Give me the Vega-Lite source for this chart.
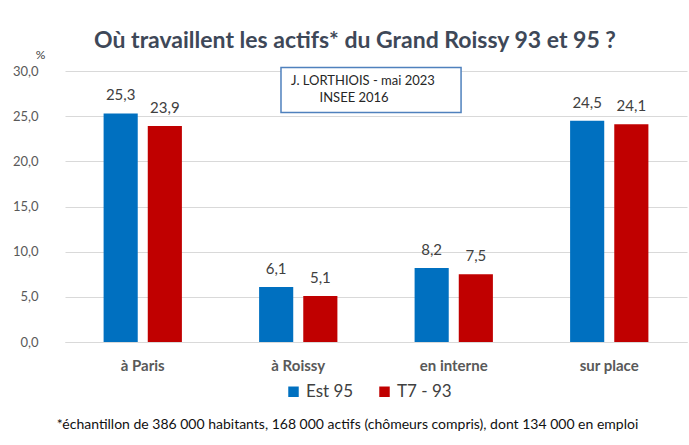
{
  "$schema": "https://vega.github.io/schema/vega-lite/v6.json",
  "width": 622,
  "height": 271,
  "autosize": {"type": "none"},
  "padding": {"left": 65, "top": 71, "right": 2, "bottom": 103},
  "background": "white",
  "title": {
    "text": "Où travaillent les actifs* du Grand Roissy 93 et 95 ?",
    "anchor": "middle",
    "dx": -21,
    "dy": 22,
    "offset": 17,
    "font": "Lato",
    "fontSize": 23,
    "fontWeight": "bold",
    "color": "#3E4858"
  },
  "config": {
    "locale": {"number": {"decimal": ",", "thousands": " ", "grouping": [3], "currency": ["", " €"]}},
    "view": {"stroke": null},
    "font": "Lato",
    "axisY": {
      "grid": true,
      "gridColor": "#D9D9D9",
      "domain": false,
      "ticks": false,
      "labelPadding": 27,
      "labelFontSize": 13,
      "labelColor": "#595959",
      "format": ".1f"
    }
  },
  "resolve": {"scale": {"x": "independent"}},
  "layer": [
    {
      "data": {
        "values": [
          {"lieu": "à Paris", "serie": "Est 95", "v": 25.3},
          {"lieu": "à Paris", "serie": "T7 - 93", "v": 23.9},
          {"lieu": "à Roissy", "serie": "Est 95", "v": 6.1},
          {"lieu": "à Roissy", "serie": "T7 - 93", "v": 5.1},
          {"lieu": "en interne", "serie": "Est 95", "v": 8.2},
          {"lieu": "en interne", "serie": "T7 - 93", "v": 7.5},
          {"lieu": "sur place", "serie": "Est 95", "v": 24.5},
          {"lieu": "sur place", "serie": "T7 - 93", "v": 24.1}
        ]
      },
      "encoding": {
        "x": {
          "field": "lieu",
          "type": "nominal",
          "sort": ["à Paris", "à Roissy", "en interne", "sur place"],
          "scale": {"paddingInner": 0, "paddingOuter": 0},
          "axis": {
            "title": "*échantillon de 386 000 habitants,  168 000 actifs (chômeurs compris), dont 134 000 en emploi",
            "titleFontSize": 14,
            "titleFontWeight": "normal",
            "titleColor": "#111111",
            "titleX": 282,
            "titleY": 82,
            "titleAlign": "center",
            "titleBaseline": "middle",
            "labelAngle": 0,
            "labelFontSize": 15,
            "labelFontWeight": "bold",
            "labelColor": "#595959",
            "labelPadding": 16,
            "ticks": false,
            "domain": true,
            "domainColor": "#D9D9D9"
          }
        },
        "xOffset": {
          "field": "serie",
          "type": "nominal",
          "scale": {"paddingInner": 0.227, "paddingOuter": 0.874}
        },
        "y": {
          "field": "v",
          "type": "quantitative",
          "scale": {"domain": [0, 30]},
          "axis": {
            "title": "%",
            "titleAngle": 0,
            "titleX": -25,
            "titleY": -17,
            "titleAlign": "center",
            "titleBaseline": "middle",
            "titleFontSize": 12,
            "titleFontWeight": "normal",
            "titleColor": "#404040",
            "values": [0, 5, 10, 15, 20, 25, 30]
          }
        }
      },
      "layer": [
        {
          "mark": {"type": "bar"},
          "encoding": {
            "color": {
              "field": "serie",
              "type": "nominal",
              "scale": {"domain": ["Est 95", "T7 - 93"], "range": ["#0070C0", "#C00000"]},
              "legend": {
                "title": null,
                "orient": "none",
                "direction": "horizontal",
                "legendX": 220,
                "legendY": 312,
                "symbolType": "square",
                "symbolSize": 110,
                "symbolStrokeWidth": 0,
                "labelFontSize": 17,
                "labelColor": "#404040",
                "columnPadding": 22,
                "labelOffset": 4
              }
            }
          }
        },
        {
          "mark": {"type": "text", "baseline": "bottom", "dy": -10, "fontSize": 15, "color": "#404040"},
          "encoding": {
            "text": {"field": "v", "type": "quantitative", "format": ".1f"}
          }
        }
      ]
    },
    {
      "data": {"values": [{"bx1": 1.389, "bx2": 2.547, "v": 30.4, "v2": 25.4}]},
      "mark": {"type": "rect", "fill": "white", "stroke": "#4F81BD", "strokeWidth": 1.5},
      "encoding": {
        "x": {"field": "bx1", "type": "quantitative", "scale": {"domain": [0, 4]}, "axis": null},
        "x2": {"field": "bx2"},
        "y": {
          "field": "v",
          "type": "quantitative",
          "axis": {
            "title": "%",
            "titleAngle": 0,
            "titleX": -25,
            "titleY": -17,
            "titleAlign": "center",
            "titleBaseline": "middle",
            "titleFontSize": 12,
            "titleFontWeight": "normal",
            "titleColor": "#404040",
            "values": [0, 5, 10, 15, 20, 25, 30]
          }
        },
        "y2": {"field": "v2"}
      }
    },
    {
      "data": {
        "values": [
          {"tx": 1.916, "v": 28.9, "ligne": "J. LORTHIOIS - mai 2023"},
          {"tx": 1.859, "v": 27.0, "ligne": "INSEE 2016"}
        ]
      },
      "mark": {"type": "text", "fontSize": 13, "color": "#262626", "baseline": "middle"},
      "encoding": {
        "x": {"field": "tx", "type": "quantitative", "scale": {"domain": [0, 4]}, "axis": null},
        "y": {
          "field": "v",
          "type": "quantitative",
          "axis": {
            "title": "%",
            "titleAngle": 0,
            "titleX": -25,
            "titleY": -17,
            "titleAlign": "center",
            "titleBaseline": "middle",
            "titleFontSize": 12,
            "titleFontWeight": "normal",
            "titleColor": "#404040",
            "values": [0, 5, 10, 15, 20, 25, 30]
          }
        },
        "text": {"field": "ligne"}
      }
    }
  ]
}
